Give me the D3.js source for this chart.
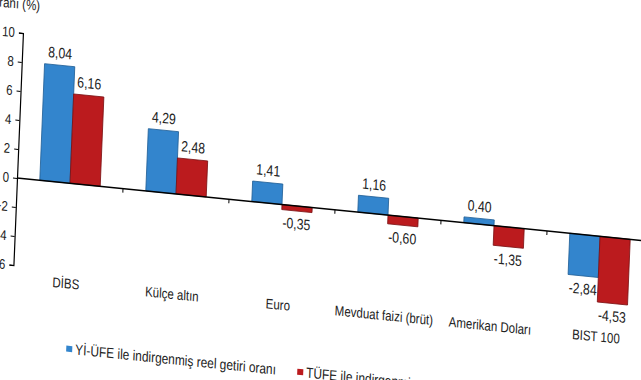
<!DOCTYPE html>
<html>
<head>
<meta charset="utf-8">
<script src="https://cdn.jsdelivr.net/npm/d3@7"></script>
<style>
  body { margin: 0; background: #fff; }
  svg { display: block; }
  text { font-family: "Liberation Sans Narrow", "Arial Narrow", "Liberation Sans", sans-serif; fill: #222; }
</style>
</head>
<body>
<svg id="chart" width="641" height="380"></svg>
<script>
var categories = ['DİBS', 'Külçe altın', 'Euro', 'Mevduat faizi (brüt)', 'Amerikan Doları', 'BIST 100'];
var seriesNames = ['Yİ-ÜFE ile indirgenmiş reel getiri oranı', 'TÜFE ile indirgenmiş reel getiri oranı'];
var yiufeValues = [8.04, 4.29, 1.41, 1.16, 0.40, -2.84];
var tufeValues = [6.16, 2.48, -0.35, -0.60, -1.35, -4.53];
var yTicks = [-6, -4, -2, 0, 2, 4, 6, 8, 10];
var colors = ['#3385cd', '#bb1b1e'];
var edgeColors = ['#1f5e96', '#7a1012'];

// no narrow font here, so texts get squeezed by hand
var squeeze = 0.82;

var svg = d3.select('#chart');

// The picture is a photo of the chart taken at an angle, so everything goes in a skewed group.
var g = svg.append('g')
  .attr('transform', 'matrix(1, 0.1, -0.041, 1, 17, 178)');

var x = d3.scaleBand()
  .domain(categories)
  .range([0, 636])
  .paddingInner(0.43)
  .paddingOuter(0.215);

var xSeries = d3.scaleBand()
  .domain([0, 1])
  .range([0, x.bandwidth()]);

var y = d3.scaleLinear()
  .domain([-6, 10])
  .range([87, -145]);

function fmt (v) {
  return v.toFixed(2).replace('.', ',');
}

function place (px, py) {
  return 'translate(' + px + ',' + py + ') scale(' + squeeze + ',1)';
}

// y axis
var yAxis = d3.axisLeft(y)
  .tickValues(yTicks)
  .tickSize(4)
  .tickPadding(4)
  .tickFormat(d3.format('d'));

var yg = g.append('g').call(yAxis);
yg.select('.domain').attr('stroke', '#000').attr('stroke-width', 1.2);
yg.selectAll('.tick line').attr('stroke', '#000');
yg.selectAll('.tick text')
  .attr('x', null)
  .attr('transform', place(-8, 0))
  .style('font-size', '14px')
  .attr('fill', '#222');

// title, mostly cut off at the top
g.append('text')
  .attr('transform', place(16, y(10) - 24))
  .attr('text-anchor', 'end')
  .style('font-size', '14px')
  .text('Reel getiri oranı (%)');

// bars
var rows = categories.map(function (c, i) {
  return {cat: c, values: [yiufeValues[i], tufeValues[i]]};
});

var groups = g.selectAll('.cat')
  .data(rows)
  .enter().append('g')
  .attr('class', 'cat')
  .attr('transform', function (d) { return 'translate(' + x(d.cat) + ',0)'; });

groups.selectAll('rect')
  .data(function (d) { return d.values; })
  .enter().append('rect')
  .attr('x', function (d, i) { return xSeries(i); })
  .attr('y', function (d) { return Math.min(y(d), y(0)); })
  .attr('width', xSeries.bandwidth())
  .attr('height', function (d) { return Math.abs(y(d) - y(0)); })
  .attr('fill', function (d, i) { return colors[i]; })
  .attr('stroke', function (d, i) { return edgeColors[i]; })
  .attr('stroke-width', 0.8);

groups.selectAll('.val')
  .data(function (d) { return d.values; })
  .enter().append('text')
  .attr('class', 'val')
  .attr('transform', function (d, i) {
    return place(xSeries(i) + xSeries.bandwidth() / 2, d >= 0 ? y(d) - 7 : y(d) + 18);
  })
  .attr('text-anchor', 'middle')
  .style('font-size', '15px')
  .text(function (d) { return fmt(d); });

// zero line with category ticks between the groups
g.append('line')
  .attr('x1', 0)
  .attr('x2', 680)
  .attr('y1', y(0))
  .attr('y2', y(0))
  .attr('stroke', '#000')
  .attr('stroke-width', 1.5);

g.selectAll('.ctick')
  .data(categories.slice(1))
  .enter().append('line')
  .attr('class', 'ctick')
  .attr('x1', function (d) { return x(d) - x.step() * x.paddingInner() / 2; })
  .attr('x2', function (d) { return x(d) - x.step() * x.paddingInner() / 2; })
  .attr('y1', y(0))
  .attr('y2', y(0) + 4)
  .attr('stroke', '#000');

// category labels sit under the bottom of the plot
g.selectAll('.cat-label')
  .data(categories)
  .enter().append('text')
  .attr('class', 'cat-label')
  .attr('transform', function (d) { return place(x(d) + x.bandwidth() / 2, y(-6) + 18); })
  .attr('text-anchor', 'middle')
  .style('font-size', '14px')
  .text(function (d) { return d; });

// legend
var legendX = [56, 287];
var legend = g.selectAll('.legend')
  .data(seriesNames)
  .enter().append('g')
  .attr('class', 'legend')
  .attr('transform', function (d, i) { return 'translate(' + legendX[i] + ',' + (y(-6) + 75) + ')'; });

legend.append('rect')
  .attr('width', 6)
  .attr('height', 6)
  .attr('fill', function (d, i) { return colors[i]; });

legend.append('text')
  .attr('transform', place(9, 8))
  .style('font-size', '14.5px')
  .text(function (d) { return d; });
</script>
</body>
</html>
